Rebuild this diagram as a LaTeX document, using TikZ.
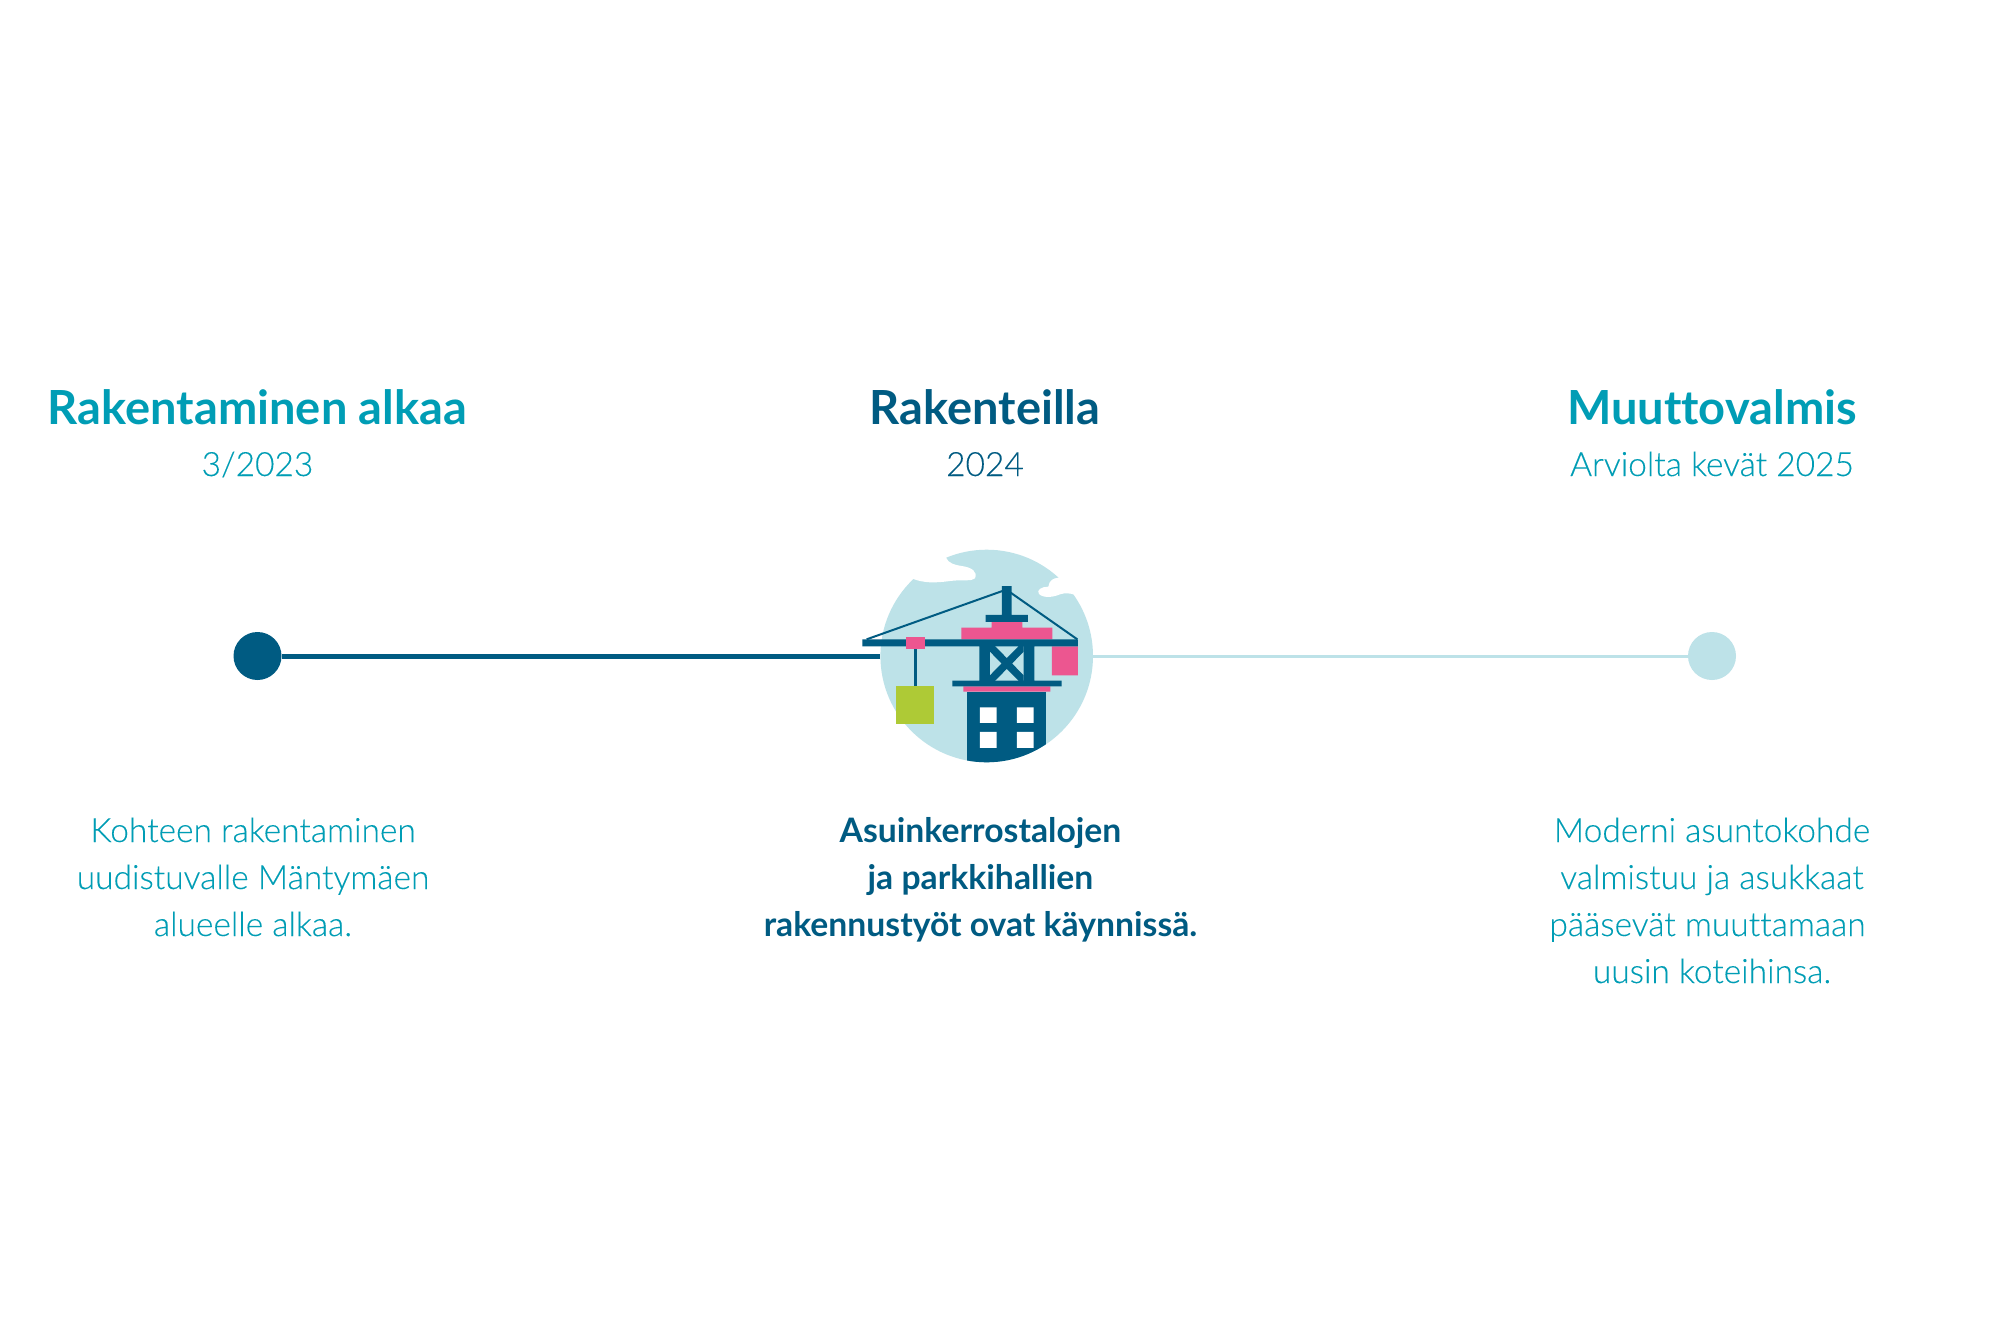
\documentclass[tikz,border=0pt]{standalone}
\usepackage{fontspec}
\setmainfont{Lato}
\newfontfamily\lightf[UprightFont=* Light,FakeBold=0.12]{Lato}
\definecolor{dark}{HTML}{005B82}
\definecolor{teal2}{HTML}{009DB5}
\definecolor{pale}{HTML}{BDE2E8}
\definecolor{pink2}{HTML}{EC5690}
\definecolor{lime2}{HTML}{AECA36}
\tikzset{
 titlet/.style={anchor=base,inner sep=0pt,font=\fontsize{47}{47}\selectfont\bfseries},
 subt/.style={anchor=base,inner sep=0pt,font=\fontsize{33.5}{33.5}\selectfont\lightf},
 bodyt/.style={anchor=base,inner sep=0pt,font=\fontsize{33.5}{33.5}\selectfont\lightf},
 boldt/.style={anchor=base,inner sep=0pt,font=\fontsize{33.7}{33.7}\selectfont\bfseries},
 dot/.style={circle,inner sep=0pt,minimum size=48pt},
}
\begin{document}
\begin{tikzpicture}[x=1pt,y=-1pt]
\useasboundingbox[fill=white] (0,0) rectangle (2000,1333);
\node[dot,fill=dark] (d1) at (257.5,656) {};
\node[dot,fill=pale] (d3) at (1712,656) {};
\node[circle,inner sep=0pt,minimum size=212.6pt,fill=pale] (hub) at (986.7,656) {};
\draw[dark,line width=5pt] (d1) -- (hub);
\draw[pale,line width=3pt] (hub) -- (d3);
% crane, in crop units
\begin{scope}[shift={(840,530)},x=0.3333pt,y=-0.3333pt]
\fill[white] (205,130) -- (220,147) .. controls (250,158) and (280,160) .. (330,153) .. controls (370,148) and (395,155) .. (405,145) .. controls (414,125) and (395,112) .. (365,108) .. controls (345,105) and (325,100) .. (318,83) -- (340,40) -- (205,40) -- cycle;
\fill[white] (655,143) .. controls (640,145) and (628,150) .. (625,170) .. controls (605,170) and (588,180) .. (597,192) .. controls (610,205) and (640,202) .. (660,193) .. controls (675,188) and (690,190) .. (700,193) -- (730,170) -- (680,125) -- cycle;
\begin{scope}
\clip (440,378) circle (319*0.3333pt);
\fill[dark] (382,485) rectangle (619,720);
\end{scope}
\fill[white] (420,532) rectangle (470,579) (531,532) rectangle (581,579) (420,606) rectangle (470,654) (531,606) rectangle (581,654);
\fill[pink2] (455,276) rectangle (547,293) (364,293) rectangle (637,328) (636,349) rectangle (714,436) (370,469) rectangle (631,485);
\fill[dark] (486,168) rectangle (515,255) (437,255) rectangle (564,276) (67,328) rectangle (714,349) (418,349) rectangle (450,452) (551,349) rectangle (583,452) (337,452) rectangle (665,469);
\begin{scope}
\clip (450,349) rectangle (551,452);
\draw[dark,line width=7.5pt] (450,349) -- (551,452) (551,349) -- (450,452);
\end{scope}
\draw[dark,line width=2pt] (80,328) -- (490,182) (512,188) -- (712,328);
\fill[dark] (222,358) rectangle (230,468);
\fill[pink2] (197,320) rectangle (255,358);
\fill[lime2] (169,468) rectangle (283,581);
\end{scope}
% text
\node[titlet,teal2] (t1) at (257.5,424.5) {Rakentaminen alkaa};
\node[subt,teal2] (s1) at (257.5,476) {3/2023};
\node[titlet,dark] (t2) at (985,424.5) {Rakenteilla};
\node[subt,dark] (s2) at (985,476) {2024};
\node[titlet,teal2] (t3) at (1712,424.5) {Muut\kern0pt tovalmis};
\node[subt,teal2] (s3) at (1712,476) {Arviolta kevät 2025};
\node[bodyt,teal2] (a1) at (253,842) {Kohteen rakentaminen};
\node[bodyt,teal2] (a2) at (253,889) {uudistuvalle Mäntymäen};
\node[bodyt,teal2] (a3) at (253,936) {alueelle alkaa.};
\node[boldt,dark] (b1) at (980.5,842) {Asuinkerrostalojen};
\node[boldt,dark] (b2) at (980.5,889) {ja parkkihallien};
\node[boldt,dark] (b3) at (980.5,936) {rakennustyöt ovat käynnissä.};
\node[bodyt,teal2] (c1) at (1712,842) {Moderni asuntokohde};
\node[bodyt,teal2] (c2) at (1712,889) {valmistuu ja asukkaat};
\node[bodyt,teal2] (c3) at (1707.5,936) {pääsevät muut\kern0pt tamaan};
\node[bodyt,teal2] (c4) at (1712,983) {uusin koteihinsa.};
\end{tikzpicture}
\end{document}
